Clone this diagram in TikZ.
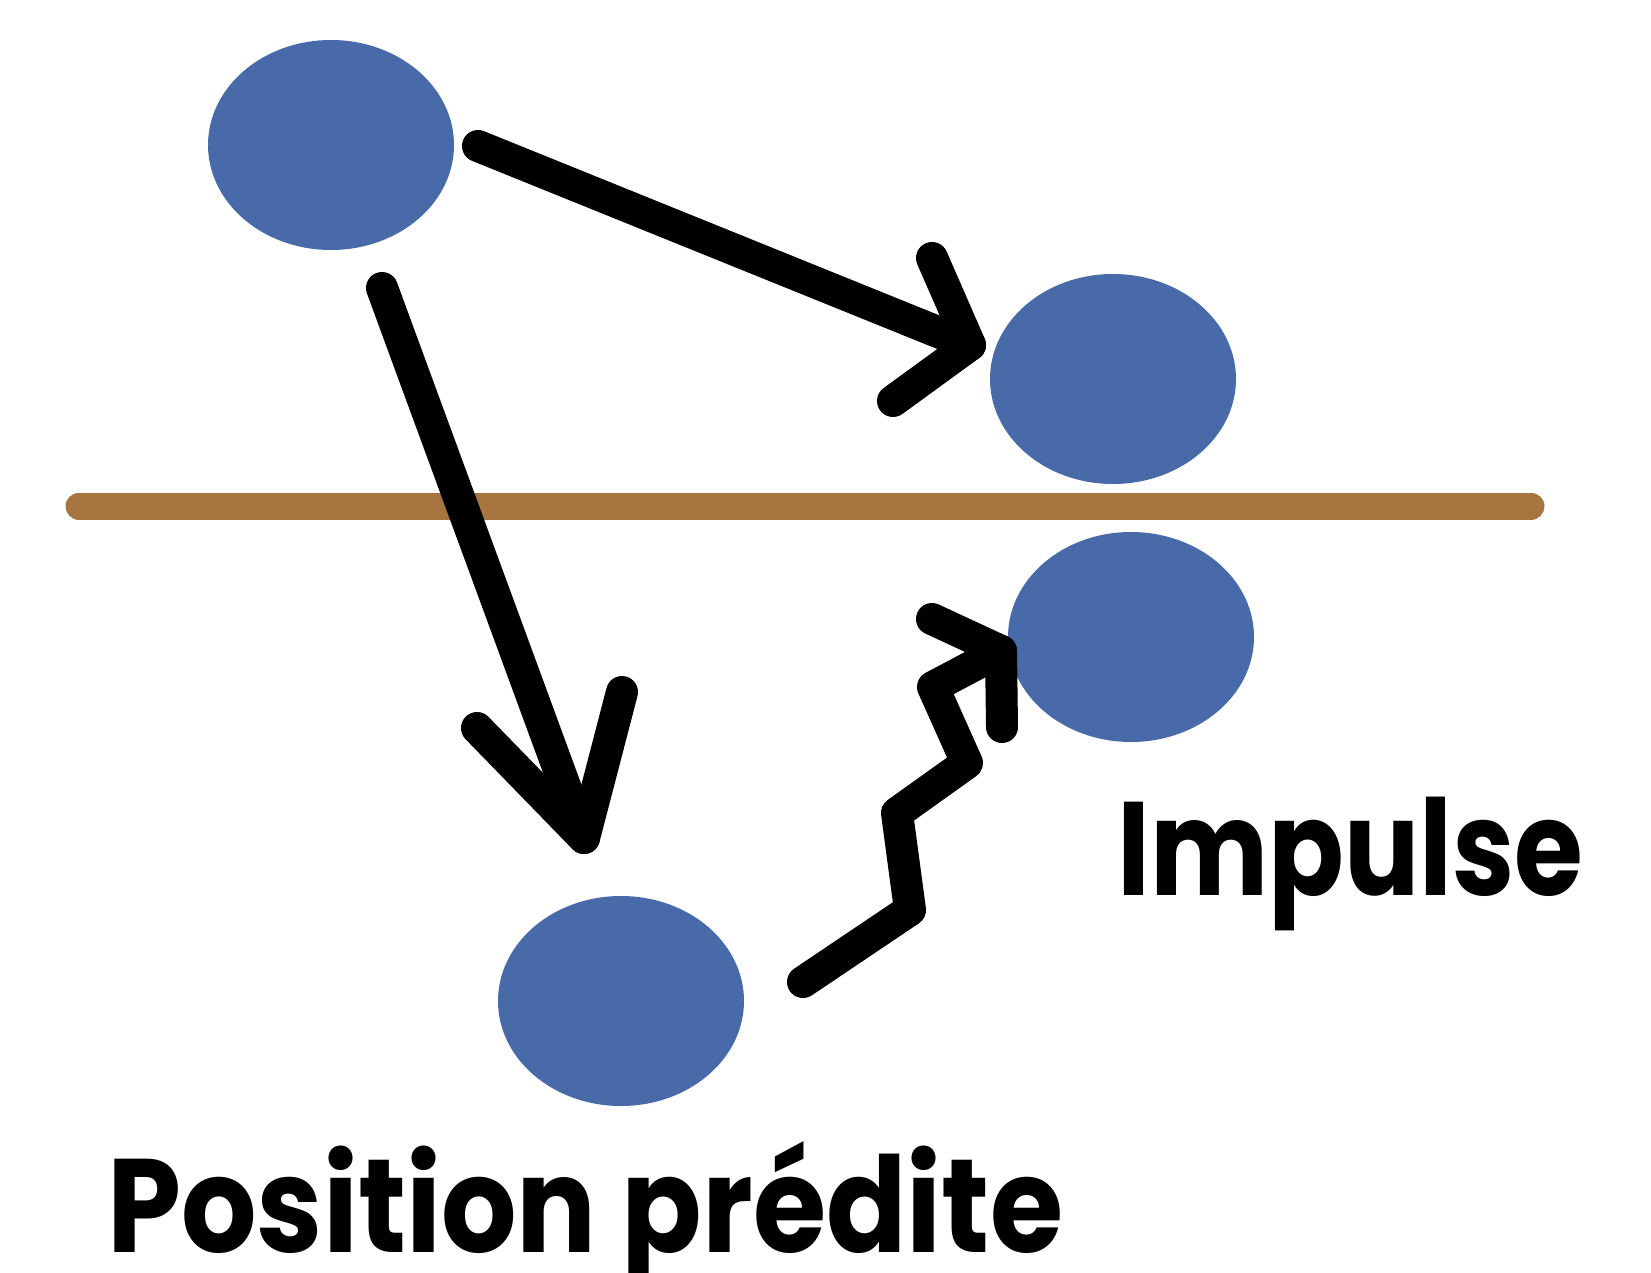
\documentclass[tikz,border=0pt]{standalone}
\usepackage{fontspec}
\usepackage{graphicx}
\setmainfont{Poppins}
\usetikzlibrary{shapes.geometric}
\definecolor{ballblue}{RGB}{72,106,168}
\definecolor{wallbrown}{RGB}{166,117,64}
\tikzset{
  ball/.style={ellipse, fill=ballblue, inner sep=0pt, minimum width=246pt, minimum height=210pt},
  arrline/.style={draw=black, line width=32pt, line cap=round, line join=round},
  wall/.style={draw=wallbrown, line width=27pt, line cap=round},
  lbl/.style={inner sep=0pt, anchor=base west, font=\fontsize{133}{140}\selectfont\bfseries}
}
\begin{document}
\begin{tikzpicture}[x=1pt,y=-1pt]
\useasboundingbox (0,0) rectangle (1651,1273);
% balls
\node[ball] (a) at (331,145) {};
\node[ball] (b) at (1113,379) {};
\node[ball] (c) at (1131,637) {};
\node[ball] (d) at (621,1001) {};
% wall
\coordinate (w1) at (79,506);
\coordinate (w2) at (1531,506);
\path[wall] (w1) -- (w2);
% arrow a -> b
\coordinate (ab0) at (478,146);
\coordinate (ab1) at (970,345);
\coordinate (abh1) at (932,258);
\coordinate (abh2) at (893,401);
\path[arrline] (ab0) -- (ab1);
\path[arrline] (abh1) -- (ab1) -- (abh2);
% arrow a -> d
\coordinate (ad0) at (382,288);
\coordinate (ad1) at (584,838);
\coordinate (adh1) at (477,728);
\coordinate (adh2) at (622,692);
\path[arrline] (ad0) -- (ad1);
\path[arrline] (adh1) -- (ad1) -- (adh2);
% zigzag d -> c
\coordinate (z0) at (803,982);
\coordinate (z5) at (1001,651);
\coordinate (zh1) at (932,619);
\coordinate (zh2) at (1002,727);
\path[arrline] (z0) -- (910,910) -- (897,813) -- (967,763) -- (933,687) -- (z5);
\path[arrline] (zh1) -- (z5) -- (zh2);
% labels
\node[lbl] (imp) at (1117,895) {\resizebox{466pt}{\height}{Impulse}};
\node[lbl] (pos) at (107,1252) {\resizebox{956pt}{\height}{Position prédite}};
\end{tikzpicture}
\end{document}
